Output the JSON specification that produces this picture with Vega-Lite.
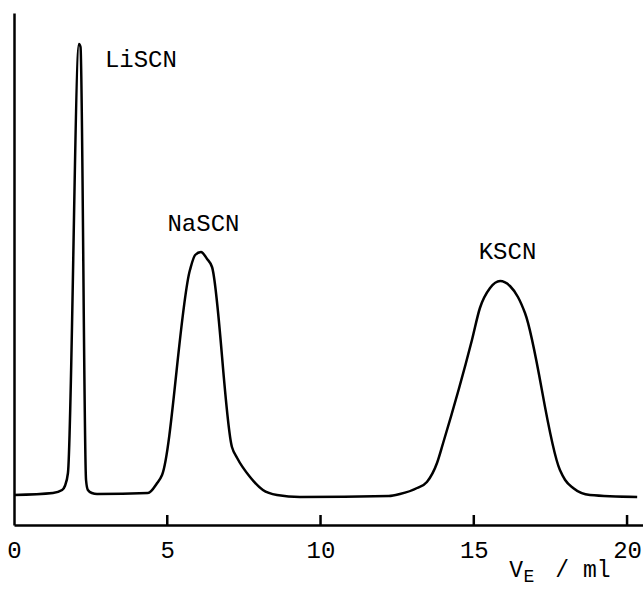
{
  "$schema": "https://vega.github.io/schema/vega-lite/v6.json",
  "width": 629,
  "height": 512,
  "autosize": {"type": "none"},
  "padding": {"left": 14, "top": 13, "right": 0, "bottom": 66},
  "background": "white",
  "config": {
    "view": {"stroke": null},
    "font": "Liberation Mono",
    "axis": {"domainColor": "black", "domainWidth": 2.5, "labelColor": "black", "labelFont": "Liberation Mono", "grid": false}
  },
  "datasets": {
    "curve": [
      {"v": 0, "s": 30}, {"v": 1.27, "s": 32}, {"v": 1.57, "s": 35}, {"v": 1.66, "s": 39},
      {"v": 1.76, "s": 52}, {"v": 2.12, "s": 481}, {"v": 2.17, "s": 478}, {"v": 2.35, "s": 45},
      {"v": 2.41, "s": 35}, {"v": 2.54, "s": 32}, {"v": 2.71, "s": 31}, {"v": 4.37, "s": 32},
      {"v": 4.67, "s": 42}, {"v": 4.83, "s": 50}, {"v": 5.74, "s": 255}, {"v": 5.91, "s": 270},
      {"v": 6.10, "s": 273}, {"v": 6.30, "s": 266}, {"v": 6.46, "s": 258}, {"v": 7.11, "s": 78},
      {"v": 7.28, "s": 67}, {"v": 7.70, "s": 48}, {"v": 8.12, "s": 35}, {"v": 8.58, "s": 30},
      {"v": 9.33, "s": 28}, {"v": 12.23, "s": 29}, {"v": 12.59, "s": 31}, {"v": 13.15, "s": 37},
      {"v": 13.47, "s": 43}, {"v": 13.80, "s": 62}, {"v": 14.00, "s": 82}, {"v": 14.94, "s": 185},
      {"v": 15.20, "s": 217}, {"v": 15.53, "s": 237}, {"v": 15.86, "s": 244}, {"v": 16.18, "s": 239},
      {"v": 16.44, "s": 228}, {"v": 16.67, "s": 212}, {"v": 17.81, "s": 55}, {"v": 17.98, "s": 45},
      {"v": 18.24, "s": 37}, {"v": 18.79, "s": 30}, {"v": 20.33, "s": 28}
    ],
    "peaks": [
      {"v": 4.14, "s": 458, "label": "LiSCN"},
      {"v": 6.18, "s": 294, "label": "NaSCN"},
      {"v": 16.1, "s": 266, "label": "KSCN"}
    ],
    "ticks": [{"v": 5}, {"v": 10}, {"v": 15}, {"v": 20}],
    "title": [
      {"v": 16.38, "s": -52, "label": "V", "size": 23},
      {"v": 16.80, "s": -57, "label": "E", "size": 18},
      {"v": 18.56, "s": -52, "label": "/ ml", "size": 23}
    ]
  },
  "layer": [
    {
      "data": {"name": "curve"},
      "mark": {"type": "line", "color": "black", "strokeWidth": 2.5, "interpolate": "monotone"},
      "encoding": {
        "x": {"field": "v", "type": "quantitative", "scale": {"domain": [0, 20.52], "nice": false, "zero": false},
          "axis": {"values": [0, 5, 10, 15, 20], "ticks": false, "tickSize": 0, "labelPadding": 13, "labelFontSize": 24, "title": null, "labelFlush": false, "labelOverlap": false}},
        "y": {"field": "s", "type": "quantitative", "scale": {"domain": [0, 512], "nice": false},
          "axis": {"labels": false, "ticks": false, "title": null}}
      }
    },
    {
      "data": {"name": "ticks"},
      "mark": {"type": "rule", "color": "black", "strokeWidth": 2.5},
      "encoding": {
        "x": {"field": "v", "type": "quantitative"},
        "y": {"datum": 0},
        "y2": {"datum": 10}
      }
    },
    {
      "data": {"name": "peaks"},
      "mark": {"type": "text", "fontSize": 24, "align": "center", "baseline": "alphabetic", "color": "black", "font": "Liberation Mono"},
      "encoding": {
        "x": {"field": "v", "type": "quantitative"},
        "y": {"field": "s", "type": "quantitative"},
        "text": {"field": "label"}
      }
    },
    {
      "data": {"name": "title"},
      "mark": {"type": "text", "align": "center", "baseline": "alphabetic", "color": "black", "font": "Liberation Mono"},
      "encoding": {
        "x": {"field": "v", "type": "quantitative"},
        "y": {"field": "s", "type": "quantitative"},
        "text": {"field": "label"},
        "size": {"field": "size", "type": "quantitative", "scale": null}
      }
    }
  ]
}
